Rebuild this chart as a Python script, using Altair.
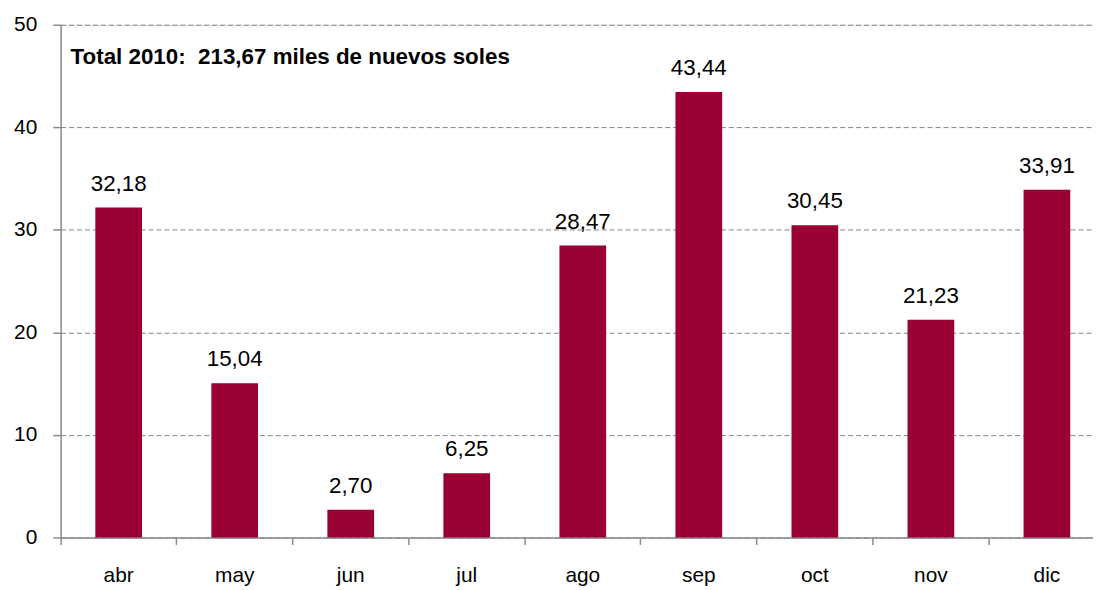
import altair as alt
import pandas as pd

months = ["abr", "may", "jun", "jul", "ago", "sep", "oct", "nov", "dic"]
values = [32.18, 15.04, 2.70, 6.25, 28.47, 43.44, 30.45, 21.23, 33.91]
labels = ["32,18", "15,04", "2,70", "6,25", "28,47", "43,44", "30,45", "21,23", "33,91"]
title_text = "Total 2010:\u00a0 213,67 miles de nuevos soles"

df = pd.DataFrame({"mes": months, "valor": values, "etiqueta": labels})

FONT = "Liberation Sans"

x = alt.X("mes:N", sort=months, title=None,
          scale=alt.Scale(range=[0, 1051], paddingInner=0, paddingOuter=0),
          axis=alt.Axis(labelAngle=0, labelFontSize=21, labelColor="black", labelFont=FONT,
                        labelPadding=20, tickSize=7, tickColor="#8c8c8c", tickWidth=1.5,
                        domainColor="#8c8c8c", domainWidth=1.5, bandPosition=0,
                        ticks=True, grid=False))
y = alt.Y("valor:Q", title=None,
          scale=alt.Scale(domain=[0, 50], nice=False),
          axis=alt.Axis(values=[0, 10, 20, 30, 40, 50], labelFontSize=21, labelColor="black",
                        labelFont=FONT, labelPadding=16, tickSize=8, tickColor="#8c8c8c",
                        tickWidth=1.5, domainColor="#8c8c8c", domainWidth=1.5,
                        grid=True, gridColor="#808080", gridDash=[5, 3], gridWidth=1))

base = alt.Chart(df)
bars = base.mark_bar(color="#990033", size=47).encode(x=x, y=y)
text = base.mark_text(fontSize=22.5, font=FONT, color="black", baseline="bottom", dy=-12).encode(
    x=alt.X("mes:N", sort=months), y="valor:Q", text="etiqueta:N")
title = alt.Chart(pd.DataFrame({"t": [title_text]})).mark_text(
    fontSize=22.5, fontWeight="bold", font=FONT, align="left", baseline="alphabetic", color="black"
).encode(x=alt.value(10), y=alt.value(39), text="t:N")

chart = alt.layer(bars, text, title).properties(
    width=1039, height=516,
    autosize=alt.AutoSizeParams(type="none"),
    padding={"left": 53, "top": 15, "right": 0, "bottom": 50},
).configure_view(stroke=None).configure(background="white")

chart.save("out.html", embed_options={"renderer": "svg", "actions": False})
